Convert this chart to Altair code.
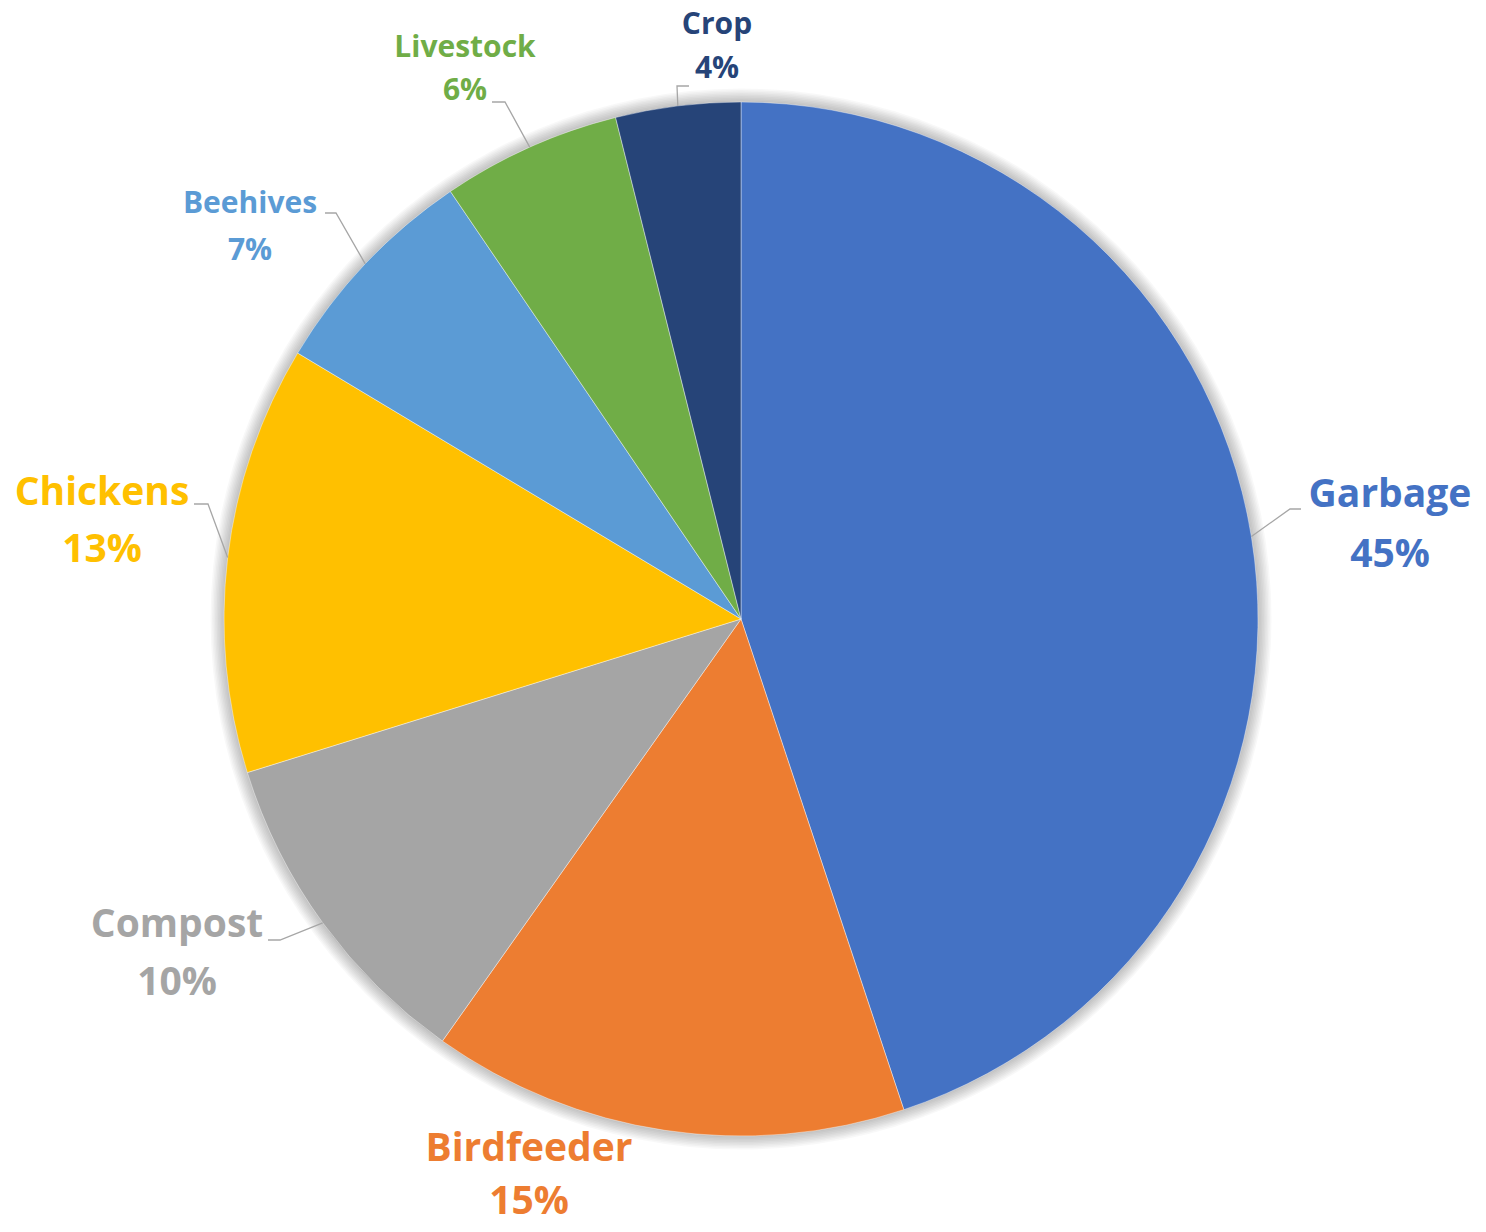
import math
import altair as alt
import pandas as pd

# ---------------- data ----------------
categories = ["Garbage", "Birdfeeder", "Compost", "Chickens", "Beehives", "Livestock", "Crop"]
shares = [44.9, 14.9, 10.4, 13.4, 6.9, 5.6, 3.9]
pct_labels = ["45%", "15%", "10%", "13%", "7%", "6%", "4%"]
colors = ["#4472C4", "#ED7D31", "#A5A5A5", "#FFC000", "#5B9BD5", "#70AD47", "#264478"]

# ---------------- layout / style ----------------
W, H = 1470, 1212          # view size
CX, CY = 733, 611          # pie centre inside the view
R = 517                    # pie radius
FONT = "Open Sans"
BIG, SMALL = 39, 30
LEADER_COLOR = "#A6A6A6"

# label placement: (x offset of centre, baseline line 1, baseline line 2, font size), px from pie centre, y down
label_layout = {
    "Garbage": (649, -112, -52, BIG),
    "Birdfeeder": (-212, 542, 595, BIG),
    "Compost": (-564, 318, 376, BIG),
    "Chickens": (-639, -114, -57, BIG),
    "Beehives": (-491, -406, -359, SMALL),
    "Livestock": (-276, -562, -519, SMALL),
    "Crop": (-24, -585, -541, SMALL),
}
# leader line elbow and end, px from pie centre, y down (start is on the slice edge)
leader_layout = {
    "Garbage": [(549, -110), (560, -110)],
    "Compost": [(-461, 321), (-473, 321)],
    "Chickens": [(-533, -115), (-547, -115)],
    "Beehives": [(-405, -406), (-416, -406)],
    "Livestock": [(-236, -517), (-249, -517)],
    "Crop": [(-64, -533), (-52, -533)],
}

# ---------------- tables ----------------
total = sum(shares)
rows, acc = [], 0.0
for i, (c, s, p) in enumerate(zip(categories, shares, pct_labels)):
    rows.append(dict(idx=i, category=c, share=s, pct=p, start=acc, end=acc + s))
    acc += s
df = pd.DataFrame(rows)

lab_rows = []
for c, p in zip(categories, pct_labels):
    lx, b1, b2, fs = label_layout[c]
    lab_rows.append(dict(category=c, pct=p, lx=lx, b1=b1, b2=b2, fs=fs))
lab_df = pd.DataFrame(lab_rows)

lead_rows = []
for r in rows:
    c = r["category"]
    if c not in leader_layout:
        continue
    mid = (r["start"] + r["end"]) / 2 / total * 2 * math.pi
    pts = [(R * math.sin(mid), -R * math.cos(mid))] + leader_layout[c]
    for k, (px, py) in enumerate(pts):
        lead_rows.append(dict(category=c, pt=k, px=px, py=py))
lead_df = pd.DataFrame(lead_rows)

# ---------------- scales ----------------
xs = alt.Scale(domain=[-CX, W - CX], nice=False, zero=False)
ys = alt.Scale(domain=[-CY, H - CY], nice=False, zero=False, reverse=True)
cs = alt.Scale(domain=categories, range=colors)
ts = alt.Scale(domain=[0, total], range=[0, 2 * math.pi])

one = pd.DataFrame({"k": [0]})
shadow_layers = [
    alt.Chart(one).mark_arc(
        theta=0, theta2=2 * math.pi, outerRadius=R + 1.5 * k,
        innerRadius=R - 2, color="#000000", opacity=0.026,
    ).encode(
        x=alt.XDatum(0, scale=xs, axis=None),
        y=alt.YDatum(0, scale=ys, axis=None),
    )
    for k in range(1, 10)
]

pie = alt.Chart(df).mark_arc(
    outerRadius=R, stroke="#FFFFFF", strokeWidth=0.8, strokeOpacity=0.5
).encode(
    x=alt.XDatum(0, scale=xs, axis=None),
    y=alt.YDatum(0, scale=ys, axis=None),
    theta=alt.Theta("start:Q", scale=ts, stack=False),
    theta2="end:Q",
    color=alt.Color("category:N", scale=cs, legend=None),
)

leaders = alt.Chart(lead_df).mark_line(color=LEADER_COLOR, strokeWidth=1.3).encode(
    x=alt.X("px:Q", scale=xs, axis=None),
    y=alt.Y("py:Q", scale=ys, axis=None),
    detail="category:N",
    order="pt:Q",
)

names = alt.Chart(lab_df).mark_text(
    font=FONT, fontWeight="bold", align="center", baseline="alphabetic"
).encode(
    x=alt.X("lx:Q", scale=xs, axis=None),
    y=alt.Y("b1:Q", scale=ys, axis=None),
    text="category:N",
    size=alt.Size("fs:Q", scale=None, legend=None),
    color=alt.Color("category:N", scale=cs, legend=None),
)

pcts = alt.Chart(lab_df).mark_text(
    font=FONT, fontWeight="bold", align="center", baseline="alphabetic"
).encode(
    x=alt.X("lx:Q", scale=xs, axis=None),
    y=alt.Y("b2:Q", scale=ys, axis=None),
    text="pct:N",
    size=alt.Size("fs:Q", scale=None, legend=None),
    color=alt.Color("category:N", scale=cs, legend=None),
)

chart = alt.layer(*shadow_layers, pie, leaders, names, pcts).properties(
    width=W,
    height=H,
    autosize=alt.AutoSizeParams(type="none"),
    padding=0,
    background="white",
).configure_view(strokeWidth=0)

chart.save("out.html", embed_options={"renderer": "svg", "actions": False})
